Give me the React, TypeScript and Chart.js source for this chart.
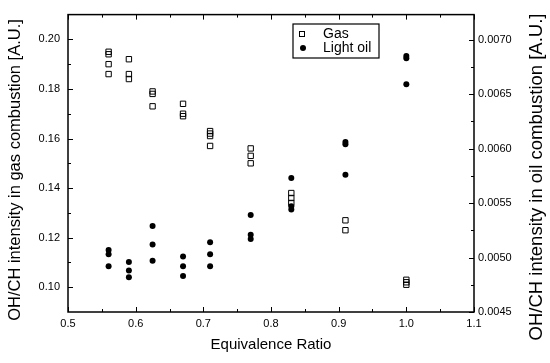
import React, { useEffect, useRef } from 'react';
import { Chart, registerables } from 'chart.js';

Chart.register(...registerables);

// Equivalence ratio of each gas measurement and its OH/CH intensity
const gasPhi = [0.56, 0.56, 0.56, 0.56, 0.59, 0.59, 0.59, 0.625, 0.625, 0.625, 0.67, 0.67, 0.67, 0.71, 0.71, 0.71, 0.71, 0.77, 0.77, 0.77, 0.83, 0.83, 0.83, 0.91, 0.91, 1.0, 1.0, 1.0];
const gasValues = [0.195, 0.194, 0.190, 0.186, 0.192, 0.186, 0.184, 0.179, 0.178, 0.173, 0.174, 0.170, 0.169, 0.163, 0.162, 0.161, 0.157, 0.156, 0.153, 0.150, 0.138, 0.136, 0.134, 0.127, 0.123, 0.103, 0.102, 0.101];

// Equivalence ratio of each light-oil measurement and its OH/CH intensity
const oilPhi = [0.56, 0.56, 0.56, 0.59, 0.59, 0.59, 0.625, 0.625, 0.625, 0.67, 0.67, 0.67, 0.71, 0.71, 0.71, 0.77, 0.77, 0.77, 0.83, 0.83, 0.83, 0.91, 0.91, 0.91, 1.0, 1.0, 1.0];
const oilValues = [0.00507, 0.00503, 0.00492, 0.00496, 0.00488, 0.00482, 0.00529, 0.00512, 0.00497, 0.00501, 0.00492, 0.00483, 0.00514, 0.00503, 0.00492, 0.00539, 0.00521, 0.00517, 0.00573, 0.00547, 0.00544, 0.00606, 0.00604, 0.00576, 0.00685, 0.00683, 0.00659];

const xTicks = [0.5, 0.6, 0.7, 0.8, 0.9, 1.0, 1.1];
const xMinorTicks = [0.55, 0.65, 0.75, 0.85, 0.95, 1.05];
const leftTicks = [0.10, 0.12, 0.14, 0.16, 0.18, 0.20];
const leftMinorTicks = [0.11, 0.13, 0.15, 0.17, 0.19];
const rightTicks = [0.0045, 0.0050, 0.0055, 0.0060, 0.0065, 0.0070];
const rightMinorTicks = [0.00475, 0.00525, 0.00575, 0.00625, 0.00675];

const seriesNames = ['Gas', 'Light oil'];
const leftTitle = 'OH/CH intensity in gas combustion [A.U.]';
const rightTitle = 'OH/CH intensity in oil combustion [A.U.]';
const FONT = "'Liberation Sans', Arial, sans-serif";

const decorPlugin = {
  id: 'decor',
  afterDraw(chart: any) {
    const { ctx, chartArea: a, scales } = chart;
    const xs = scales.x, yl = scales.yL, yr = scales.yR;
    ctx.save();
    ctx.strokeStyle = '#000';
    ctx.lineWidth = 1;
    const major = 5, minor = 3;
    ctx.beginPath();
    const vx = (v: number, len: number) => {
      const p = Math.round(xs.getPixelForValue(v)) + 0.5;
      ctx.moveTo(p, a.bottom); ctx.lineTo(p, a.bottom - len);
      ctx.moveTo(p, a.top); ctx.lineTo(p, a.top + len);
    };
    xTicks.forEach((v) => vx(v, major));
    xMinorTicks.forEach((v) => vx(v, minor));
    const hl = (v: number, len: number) => {
      const p = Math.round(yl.getPixelForValue(v)) + 0.5;
      ctx.moveTo(a.left, p); ctx.lineTo(a.left + len, p);
    };
    leftTicks.forEach((v) => hl(v, major));
    leftMinorTicks.forEach((v) => hl(v, minor));
    const hr = (v: number, len: number) => {
      const p = Math.round(yr.getPixelForValue(v)) + 0.5;
      ctx.moveTo(a.right, p); ctx.lineTo(a.right - len, p);
    };
    rightTicks.forEach((v) => hr(v, major));
    rightMinorTicks.forEach((v) => hr(v, minor));
    ctx.stroke();

    ctx.lineWidth = 1.5;
    ctx.strokeRect(a.left, a.top, a.right - a.left, a.bottom - a.top);

    // rotated axis titles (both read bottom-to-top)
    ctx.fillStyle = '#000';
    ctx.textAlign = 'center';
    ctx.textBaseline = 'middle';
    ctx.save();
    ctx.translate(15, 170);
    ctx.rotate(-Math.PI / 2);
    ctx.font = `16.5px ${FONT}`;
    ctx.fillText(leftTitle, 0, 0);
    ctx.restore();
    ctx.save();
    ctx.translate(537, 177);
    ctx.rotate(-Math.PI / 2);
    ctx.font = `18.5px ${FONT}`;
    ctx.fillText(rightTitle, 0, 0);
    ctx.restore();

    // legend box
    const lx = 293, ly = 24, lw = 86, lh = 34;
    ctx.lineWidth = 1.2;
    ctx.fillStyle = '#fff';
    ctx.fillRect(lx, ly, lw, lh);
    ctx.strokeRect(lx, ly, lw, lh);
    ctx.lineWidth = 1;
    ctx.strokeRect(299.5, 31.5, 5, 5);
    ctx.fillStyle = '#000';
    ctx.beginPath();
    ctx.arc(303, 48, 3, 0, Math.PI * 2);
    ctx.fill();
    ctx.font = `14px ${FONT}`;
    ctx.textBaseline = 'middle';
    ctx.textAlign = 'left';
    ctx.fillText(seriesNames[0], 323, 34);
    ctx.fillText(seriesNames[1], 323, 48);
    ctx.restore();
  },
};

export default function App() {
  const ref = useRef<HTMLCanvasElement>(null);
  useEffect(() => {
    if (!ref.current) return;
    const chart = new Chart(ref.current, {
      type: 'scatter',
      data: {
        datasets: [
          {
            label: seriesNames[0],
            data: gasPhi.map((x, i) => ({ x, y: gasValues[i] })),
            yAxisID: 'yL',
            pointStyle: 'rect',
            pointRadius: 3.8,
            pointBorderWidth: 1,
            borderColor: '#000',
            backgroundColor: 'rgba(255,255,255,0)',
          },
          {
            label: seriesNames[1],
            data: oilPhi.map((x, i) => ({ x, y: oilValues[i] })),
            yAxisID: 'yR',
            pointStyle: 'circle',
            pointRadius: 3,
            pointBorderWidth: 0,
            borderColor: '#000',
            backgroundColor: '#000',
          },
        ],
      },
      options: {
        animation: false,
        responsive: false,
        maintainAspectRatio: false,
        layout: { padding: { top: 6, right: 0, left: 0, bottom: 0 } },
        plugins: { legend: { display: false }, tooltip: { enabled: false } },
        scales: {
          x: {
            type: 'linear',
            min: 0.5,
            max: 1.1,
            grid: { display: false, tickLength: 0 },
            border: { display: false },
            afterBuildTicks: (s: any) => { s.ticks = xTicks.map((v) => ({ value: v })); },
            afterFit: (s: any) => { s.height = 51; },
            ticks: {
              color: '#000',
              font: { family: FONT, size: 11 },
              padding: 5,
              maxRotation: 0,
              callback: (v: any) => Number(v).toFixed(1),
            },
            title: {
              display: true,
              text: 'Equivalence Ratio',
              color: '#000',
              font: { family: FONT, size: 15 },
              padding: { top: 0, bottom: 9 },
            },
          },
          yL: {
            type: 'linear',
            position: 'left',
            min: 0.09,
            max: 0.21,
            grid: { display: false, tickLength: 0 },
            border: { display: false },
            afterBuildTicks: (s: any) => { s.ticks = leftTicks.map((v) => ({ value: v })); },
            afterFit: (s: any) => { s.width = 68; },
            ticks: {
              color: '#000',
              font: { family: FONT, size: 11 },
              padding: 8,
              callback: (v: any) => Number(v).toFixed(2),
            },
          },
          yR: {
            type: 'linear',
            position: 'right',
            min: 0.0045,
            max: 0.00723,
            grid: { display: false, tickLength: 0 },
            border: { display: false },
            afterBuildTicks: (s: any) => { s.ticks = rightTicks.map((v) => ({ value: v })); },
            afterFit: (s: any) => { s.width = 76; },
            ticks: {
              color: '#000',
              font: { family: FONT, size: 11 },
              padding: 4,
              callback: (v: any) => Number(v).toFixed(4),
            },
          },
        },
      },
      plugins: [decorPlugin],
    } as any);
    return () => chart.destroy();
  }, []);
  return (
    <div style={{ position: 'fixed', left: 0, top: 0, width: 550, height: 363, background: '#fff' }}>
      <canvas ref={ref} width={550} height={363} style={{ width: 550, height: 363, display: 'block' }} />
    </div>
  );
}
